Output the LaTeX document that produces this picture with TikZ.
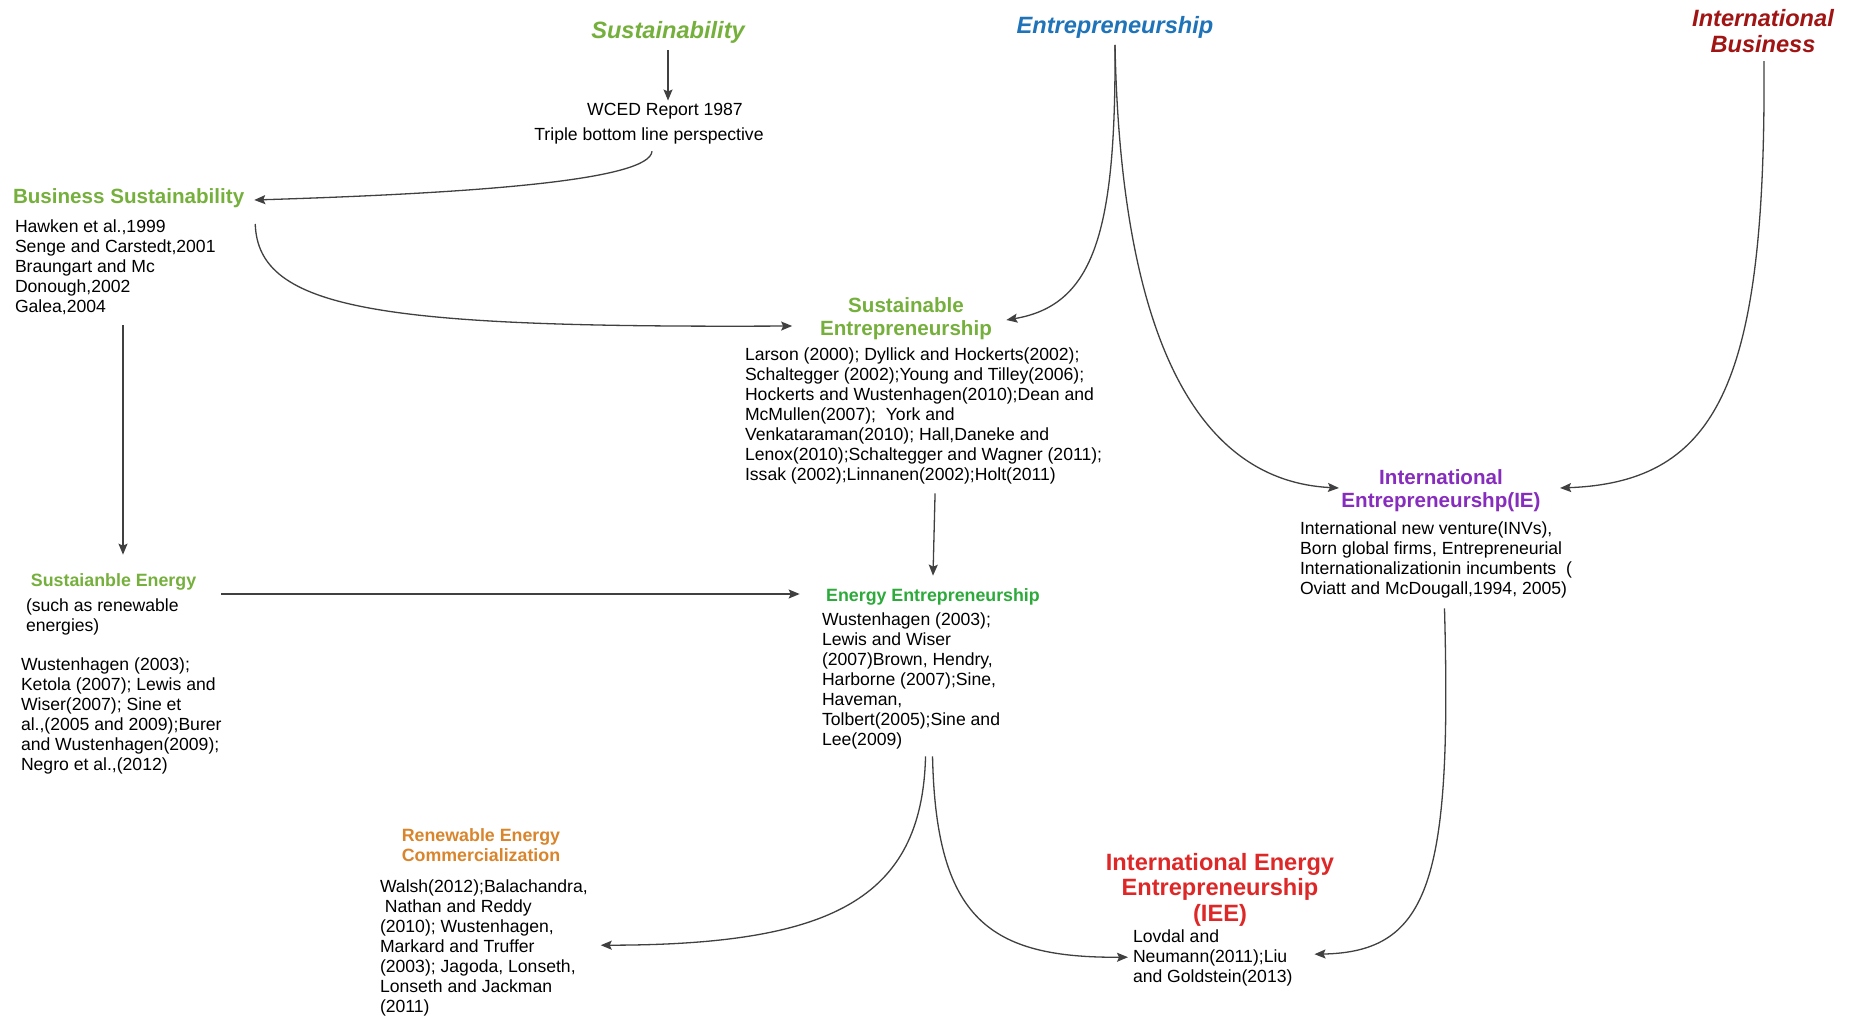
\documentclass[tikz,border=0pt]{standalone}
\usepackage{fontspec}
\setmainfont{Liberation Sans}
\usetikzlibrary{arrows.meta,calc}

\definecolor{sustgreen}{RGB}{118,176,60}
\definecolor{energygreen}{RGB}{44,170,58}
\definecolor{entblue}{RGB}{30,115,185}
\definecolor{ibred}{RGB}{160,20,20}
\definecolor{iepurple}{RGB}{135,45,190}
\definecolor{recorange}{RGB}{217,133,44}
\definecolor{ieered}{RGB}{222,40,40}
\definecolor{linkgray}{RGB}{64,64,64}

\begin{document}
\begin{tikzpicture}[x=0.5pt,y=-0.5pt,
  every node/.style={inner sep=0pt, outer sep=0pt},
  field/.style={font={\fontsize{11.8}{13}\selectfont\bfseries\itshape}, align=center},
  topic/.style={font={\fontsize{10.3}{11.5}\selectfont\bfseries}, align=center},
  subtopic/.style={font={\fontsize{8.9}{10}\selectfont\bfseries}, align=center},
  refs/.style={font={\fontsize{8.8}{10}\selectfont}, align=left, anchor=north west},
  link/.style={draw=linkgray, line width=0.65pt, -{Stealth[length=5.5pt,width=4.5pt,inset=1pt]}},
]
\useasboundingbox (0,0) rectangle (1852,1016);
\fill[white] (0,0) rectangle (1852,1016);

% research fields
\node[field, text=sustgreen] (sust) at (668,32.5) {Sustainability};
\node[field, text=entblue] (ent) at (1115,27.5) {Entrepreneurship};
\node[field, text=ibred] (ib) at (1763,31) {International\\Business};

% sustainability branch
\node[refs, anchor=center] (wced) at (665,111.5) {WCED Report 1987};
\node[refs, anchor=center] (tbl) at (649,135.5) {Triple bottom line perspective};
\node[topic, text=sustgreen, anchor=west] (bs) at (13,198.5) {Business Sustainability};
\node[refs] (hawk) at (15,220) {Hawken et al.,1999\\Senge and Carstedt,2001\\Braungart and Mc\\Donough,2002\\Galea,2004};

\node[topic, text=sustgreen] (se) at (906,318.5) {Sustainable\\Entrepreneurship};
\node[refs] (seb) at (745,348) {Larson (2000); Dyllick and Hockerts(2002);\\Schaltegger (2002);Young and Tilley(2006);\\Hockerts and Wustenhagen(2010);Dean and\\McMullen(2007);\ \ York and\\Venkataraman(2010); Hall,Daneke and\\Lenox(2010);Schaltegger and Wagner (2011);\\Issak (2002);Linnanen(2002);Holt(2011)};

\node[topic, text=iepurple] (ie) at (1441,490.5) {International\\Entrepreneurshp(IE)};
\node[refs] (ieb) at (1300,522) {International new venture(INVs),\\Born global firms, Entrepreneurial\\Internationalizationin incumbents\ \ (\\Oviatt and McDougall,1994, 2005)};

\node[subtopic, text=sustgreen, anchor=west] (sen) at (31,581.5) {Sustaianble Energy};
\node[refs] (such) at (26,599) {(such as renewable\\energies)};
\node[refs] (senb) at (21,658) {Wustenhagen (2003);\\Ketola (2007); Lewis and\\Wiser(2007); Sine et\\al.,(2005 and 2009);Burer\\and Wustenhagen(2009);\\Negro et al.,(2012)};

\node[subtopic, text=energygreen] (ee) at (933,596.5) {Energy Entrepreneurship};
\node[refs] (eeb) at (822,613) {Wustenhagen (2003);\\Lewis and Wiser\\(2007)Brown, Hendry,\\Harborne (2007);Sine,\\Haveman,\\Tolbert(2005);Sine and\\Lee(2009)};

\node[subtopic, text=recorange] (rec) at (481,845) {Renewable Energy\\Commercialization};
\node[refs] (recb) at (380,880) {Walsh(2012);Balachandra,\\\hspace*{0.28em}Nathan and Reddy\\(2010); Wustenhagen,\\Markard and Truffer\\(2003); Jagoda, Lonseth,\\Lonseth and Jackman\\(2011)};

\node[font={\fontsize{11.8}{12.75}\selectfont\bfseries}, align=center, text=ieered] (iee) at (1220,889.5) {International Energy\\Entrepreneurship\\(IEE)};
\node[refs] (ieeb) at (1133,930) {Lovdal and\\Neumann(2011);Liu\\and Goldstein(2013)};

% connectors
\draw[link] ($(sust.south)+(0,6.5)$) -- ($(sust.south |- wced.north)+(0,-3)$);
\draw[link] ($(tbl.south)+(3,7.5)$) .. controls (650,180) and (480,193) .. ($(bs.east)+(10,1.5)$);
\draw[link] ($(bs.east)+(11,25.5)$) .. controls (258,310) and (380,328) .. ($(se.west)+(-28,7.5)$);
\draw[link] ($(ent.south)+(0,6.5)$) .. controls (1116,230) and (1095,305) .. ($(se.east)+(14.5,1.5)$);
\draw[link] ($(ent.south)+(0,6.5)$) .. controls (1120,300) and (1180,480) .. ($(ie.west)+(-2.5,-2.5)$);
\draw[link] ($(ib.south)+(1,8.5)$) .. controls (1766,380) and (1720,482) .. ($(ie.east)+(19.5,-2.5)$);
\draw[link] ($(seb.south)+(11.5,9)$) -- ($(ee.north)+(0,-12.5)$);
\draw[link] ($(hawk.south west)+(108,10)$) -- ($(sen.north west)+(92,-18.5)$);
\draw[link] ($(sen.east)+(25,12.5)$) -- ($(ee.west)+(-26.5,-2.5)$);
\draw[link] ($(eeb.south)+(14.5,7)$) .. controls (922,900) and (830,945) .. ($(recb.east)+(13,-3)$);
\draw[link] ($(eeb.south)+(21.5,7)$) .. controls (936,920) and (990,958) .. ($(ieeb.west)+(-5,-1)$);
\draw[link] ($(ieb.south)+(8.5,10)$) .. controls (1452,880) and (1430,952) .. ($(ieeb.east)+(22,-4)$);
\end{tikzpicture}
\end{document}
